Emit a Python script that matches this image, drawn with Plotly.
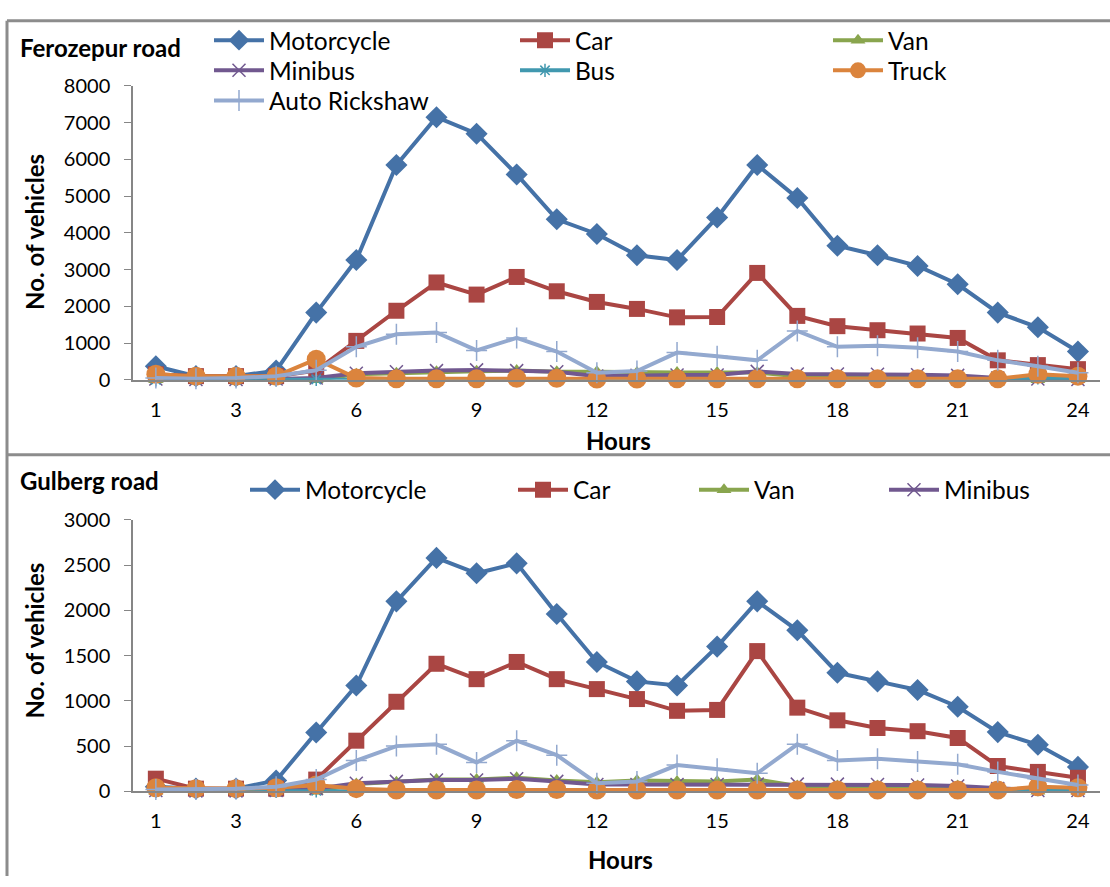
import plotly.graph_objects as go

hours = list(range(1, 25))
tick_hours = [1, 3, 6, 9, 12, 15, 18, 21, 24]

# Ferozepur road
fz_motorcycle = [370, 100, 100, 250, 1830, 3260, 5850, 7150, 6700, 5590, 4370, 3970,
                 3390, 3260, 4420, 5850, 4950, 3650, 3390, 3100, 2600, 1830, 1430, 770]
fz_car = [150, 100, 100, 100, 250, 1060, 1880, 2650, 2320, 2800, 2410, 2120,
          1930, 1700, 1710, 2910, 1740, 1460, 1350, 1260, 1140, 530, 400, 290]
fz_van = [0, 0, 0, 0, 0, 150, 180, 220, 230, 250, 220, 220,
          200, 200, 200, 200, 100, 100, 100, 100, 100, 0, 0, 0]
fz_minibus = [20, 10, 10, 20, 50, 180, 220, 250, 270, 250, 220, 100,
              120, 130, 130, 230, 160, 160, 150, 140, 120, 50, 20, 10]
fz_bus = [0, 0, 0, 0, 10, 10, 10, 10, 10, 10, 10, 10,
          10, 10, 10, 10, 10, 10, 10, 10, 10, 10, 50, 50]
fz_truck = [150, 100, 100, 100, 560, 50, 30, 30, 30, 40, 40, 20,
            20, 30, 30, 30, 30, 30, 30, 30, 30, 30, 150, 100]
fz_auto = [50, 30, 50, 100, 260, 900, 1240, 1290, 800, 1140, 770, 190,
           240, 740, 640, 530, 1330, 900, 930, 870, 770, 530, 370, 190]

# Gulberg road
gb_motorcycle = [50, 30, 30, 120, 650, 1170, 2100, 2580, 2410, 2520, 1960, 1430,
                 1215, 1170, 1600, 2100, 1780, 1310, 1215, 1120, 935, 655, 515, 270]
gb_car = [140, 30, 30, 30, 130, 560, 990, 1410, 1240, 1430, 1240, 1130,
          1020, 890, 900, 1550, 925, 785, 700, 665, 590, 280, 215, 150]
gb_van = [0, 0, 0, 0, 0, 80, 100, 130, 130, 150, 120, 100,
          120, 110, 110, 130, 60, 60, 60, 60, 60, 0, 0, 0]
gb_minibus = [10, 5, 5, 10, 30, 90, 110, 125, 125, 140, 110, 75,
              75, 75, 75, 80, 80, 80, 75, 70, 60, 30, 10, 10]
gb_bus = [0, 0, 0, 0, 5, 5, 5, 5, 5, 5, 5, 5,
          5, 5, 5, 5, 5, 5, 5, 5, 5, 5, 20, 20]
gb_truck = [40, 30, 30, 40, 70, 30, 15, 15, 15, 20, 20, 15,
            15, 15, 15, 15, 15, 15, 15, 15, 15, 15, 50, 40]
gb_auto = [20, 20, 30, 50, 130, 340, 500, 520, 320, 560, 400, 90,
           110, 290, 250, 200, 520, 340, 360, 330, 300, 215, 140, 70]

W, H = 1110, 887
FONT = "Lato"


def px(x):
    return x / W


def py(y):
    return 1 - y / H


styles = {
    "Motorcycle": dict(color="#4572A7", symbol="diamond", size=17),
    "Car": dict(color="#AA4643", symbol="square", size=16),
    "Van": dict(color="#89A54E", symbol="triangle-up", size=13),
    "Minibus": dict(color="#71588F", symbol="x-thin-open", size=13),
    "Bus": dict(color="#4198AF", symbol="asterisk-open", size=11),
    "Truck": dict(color="#DB843D", symbol="circle", size=19),
    "Auto Rickshaw": dict(color="#93A9CF", symbol="cross-thin-open", size=15),
}

fig = go.Figure()

top_series = [("Motorcycle", fz_motorcycle), ("Car", fz_car), ("Van", fz_van),
              ("Minibus", fz_minibus), ("Bus", fz_bus), ("Truck", fz_truck),
              ("Auto Rickshaw", fz_auto)]
bot_series = [("Motorcycle", gb_motorcycle), ("Car", gb_car), ("Van", gb_van),
              ("Minibus", gb_minibus), ("Bus", gb_bus), ("Truck", gb_truck),
              ("Auto Rickshaw", gb_auto)]

# legend positions: (symbol start x px, center y px)
top_leg = {"Motorcycle": (215, 28), "Car": (521, 28), "Van": (834, 28),
           "Minibus": (215, 59), "Bus": (521, 59), "Truck": (834, 59),
           "Auto Rickshaw": (215, 90)}
bot_leg = {"Motorcycle": (251, 490), "Car": (519, 490), "Van": (700, 490),
           "Minibus": (890, 490)}

legend_layouts = {}
lid = 1


def legend_name(i):
    return "legend" if i == 1 else f"legend{i}"


def add_series(series, xa, ya, legpos):
    global lid
    for name, vals in series:
        st = styles[name]
        mk = dict(color=st["color"], symbol=st["symbol"], size=st["size"])
        if st["symbol"].endswith("open"):
            mk["line"] = dict(color=st["color"], width=1.5)
        kw = {}
        if name in legpos:
            ln = legend_name(lid)
            kw["legend"] = ln
            x0, y0 = legpos[name]
            legend_layouts[ln] = dict(
                x=px(x0 - 6), y=py(y0), xanchor="left", yanchor="middle",
                bgcolor="rgba(0,0,0,0)", font=dict(family=FONT, size=24.5, color="#000"),
                itemwidth=50, tracegroupgap=0)
            lid += 1
            show = True
        else:
            show = False
        fig.add_trace(go.Scatter(
            x=hours, y=vals, name=name, mode="lines+markers",
            line=dict(color=st["color"], width=4), marker=mk,
            xaxis=xa, yaxis=ya, showlegend=show, cliponaxis=False, **kw))


add_series(top_series, "x", "y", top_leg)
add_series(bot_series, "x2", "y2", bot_leg)

axis_col = "#868686"
xcommon = dict(range=[0.43, 24.55], tickmode="array", tickvals=tick_hours,
               showline=True, linecolor=axis_col, linewidth=1.5, showgrid=False,
               zeroline=False, ticks="", tickfont=dict(family=FONT, size=20, color="#000"),
               ticklabelstandoff=11)
ycommon = dict(showline=True, linecolor=axis_col, linewidth=1.5, showgrid=False,
               zeroline=False, ticks="outside", ticklen=7, tickcolor=axis_col,
               tickfont=dict(family=FONT, size=20, color="#000"), ticklabelstandoff=10)

layout = dict(
    width=W, height=H, autosize=False,
    margin=dict(l=0, r=0, t=0, b=0),
    paper_bgcolor="white", plot_bgcolor="white",
    xaxis=dict(domain=[px(133), px(1100)], anchor="y", **xcommon),
    yaxis=dict(domain=[py(377), py(75)], anchor="x", range=[0, 8000], dtick=1000, **ycommon),
    xaxis2=dict(domain=[px(133), px(1100)], anchor="y2", **xcommon),
    yaxis2=dict(domain=[py(800), py(521)], anchor="x2", range=[0, 3000], dtick=500, **ycommon),
)
layout.update(legend_layouts)
fig.update_layout(**layout)

bold = dict(family=FONT, size=24, color="#000")
ann = [
    dict(text="<b>Ferozepur road</b>", x=px(18), y=py(35), xanchor="left", yanchor="middle"),
    dict(text="<b>Gulberg road</b>", x=px(18), y=py(481), xanchor="left", yanchor="middle"),
    dict(text="<b>Hours</b>", x=px(618), y=py(439), xanchor="center", yanchor="middle"),
    dict(text="<b>Hours</b>", x=px(621), y=py(870), xanchor="center", yanchor="middle"),
    dict(text="<b>No. of vehicles</b>", x=px(35), y=py(225), xanchor="center", yanchor="middle", textangle=-90),
    dict(text="<b>No. of vehicles</b>", x=px(35), y=py(645), xanchor="center", yanchor="middle", textangle=-90),
]
for a in ann:
    fig.add_annotation(xref="paper", yref="paper", showarrow=False, font=bold, **a)

border = dict(color="#8C8C8C", width=3)
fig.add_shape(type="line", xref="paper", yref="paper", x0=px(7), x1=1, y0=py(8), y1=py(8), line=border)
fig.add_shape(type="line", xref="paper", yref="paper", x0=px(7), x1=1, y0=py(454), y1=py(454), line=border)
fig.add_shape(type="line", xref="paper", yref="paper", x0=px(7), x1=px(7), y0=py(8), y1=0, line=border)

fig.write_html("out.html")
